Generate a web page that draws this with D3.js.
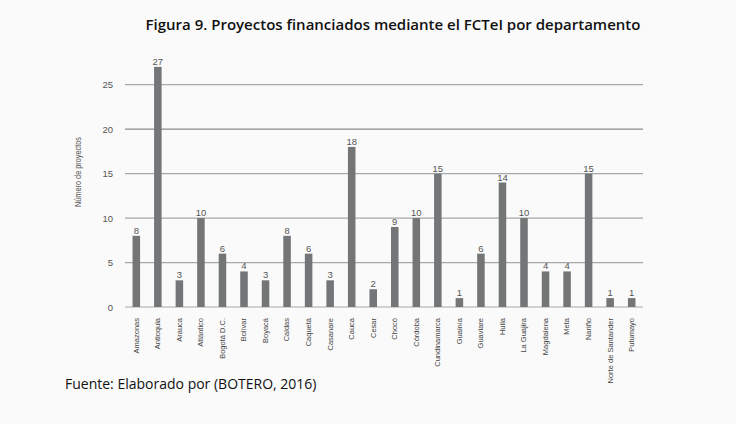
<!DOCTYPE html>
<html>
<head>
<meta charset="utf-8">
<script src="https://cdn.jsdelivr.net/npm/d3@7"></script>
<style>
  body { margin: 0; background: #fafafa; }
  svg { display: block; }
</style>
</head>
<body>
<svg id="chart"></svg>
<script>
// departamentos y numero de proyectos
let departamentos = ['Amazonas', 'Antioquia', 'Arauca', 'Atlántico', 'Bogotá D.C.', 'Bolívar', 'Boyacá',
    'Caldas', 'Caquetá', 'Casanare', 'Cauca', 'Cesar', 'Chocó', 'Córdoba', 'Cundinamarca', 'Guainía',
    'Guaviare', 'Huila', 'La Guajira', 'Magdalena', 'Meta', 'Nariño', 'Norte de Santander', 'Putumayo'];
let proyectos = [8, 27, 3, 10, 6, 4, 3, 8, 6, 3, 18, 2, 9, 10, 15, 1, 6, 14, 10, 4, 4, 15, 1, 1];
let yTicks = [0, 5, 10, 15, 20, 25];

let W = 736, H = 424;
let margin = {top: 58, right: 93, bottom: 117, left: 125},
    width = W - margin.left - margin.right, height = H - margin.top - margin.bottom;

let svg = d3.select('#chart').attr('width', W).attr('height', H);
svg.append('rect').attr('width', W).attr('height', H).attr('fill', '#fafafa');

let x = d3.scaleBand()
    .domain(departamentos)
    .range([0, width])
    .paddingInner(0.65)
    .paddingOuter(0.35);
let y = d3.scaleLinear().domain([0, 28]).range([height, 0]);

let chart = svg.append('g')
    .attr('transform', 'translate(' + margin.left + ',' + margin.top + ')');

// lineas de cuadricula
chart.append('g')
    .selectAll('line')
    .data(yTicks)
    .enter()
    .append('line')
    .attr('x1', 0)
    .attr('x2', width)
    .attr('y1', d => y(d))
    .attr('y2', d => y(d))
    .attr('stroke', d => d == 20 ? '#8a8a8a' : '#a8a8a8')
    .attr('stroke-width', 1.2);

// eje y
let yAxis = d3.axisLeft(y).tickValues(yTicks).tickSize(0).tickPadding(12);
chart.append('g')
    .call(yAxis)
    .call(g => g.select('.domain').remove())
    .selectAll('text')
    .attr('fill', '#555')
    .style('font-family', 'Liberation Sans, Arial, sans-serif')
    .style('font-size', '9.5px');

// eje x
let xAxis = d3.axisBottom(x).tickSize(0).tickPadding(0);
chart.append('g')
    .attr('transform', 'translate(0,' + height + ')')
    .call(xAxis)
    .call(g => g.select('.domain').remove())
    .selectAll('text')
    .attr('transform', 'rotate(-90)')
    .attr('x', -11)
    .attr('y', 0)
    .attr('dy', '.32em')
    .style('text-anchor', 'end')
    .attr('fill', '#444')
    .style('font-family', '"Liberation Sans Narrow", "Arial Narrow", sans-serif')
    .style('font-size', '7.5px');

// barras
chart.selectAll('.bar')
    .data(departamentos)
    .enter()
    .append('rect')
    .attr('class', 'bar')
    .attr('x', (d) => x(d))
    .attr('y', (d, i) => y(proyectos[i]))
    .attr('width', x.bandwidth())
    .attr('height', (d, i) => height - y(proyectos[i]))
    .style('fill', '#737576');

// etiquetas de valor
chart.selectAll('.valor')
    .data(departamentos)
    .enter()
    .append('text')
    .attr('class', 'valor')
    .attr('x', (d) => x(d) + x.bandwidth() / 2)
    .attr('y', (d, i) => y(proyectos[i]) - 2)
    .attr('text-anchor', 'middle')
    .attr('fill', '#555')
    .style('font-family', 'Liberation Sans, Arial, sans-serif')
    .style('font-size', '9.5px')
    .text((d, i) => proyectos[i]);

// titulo eje y
svg.append('text')
    .attr('transform', 'translate(81,172) rotate(-90)')
    .attr('text-anchor', 'middle')
    .attr('fill', '#555')
    .style('font-family', '"Liberation Sans Narrow", "Arial Narrow", sans-serif')
    .style('font-size', '9.5px')
    .attr('textLength', 70)
    .attr('lengthAdjust', 'spacingAndGlyphs')
    .text('Número de proyectos');

// titulo
svg.append('text')
    .attr('x', 393)
    .attr('y', 30)
    .attr('text-anchor', 'middle')
    .attr('fill', '#111')
    .style('font-family', '"Open Sans", sans-serif')
    .style('font-weight', '600')
    .style('font-size', '15px')
    .text('Figura 9. Proyectos financiados mediante el FCTeI por departamento');

// fuente
svg.append('text')
    .attr('x', 65)
    .attr('y', 389)
    .attr('fill', '#111')
    .style('font-family', '"Open Sans", sans-serif')
    .style('font-size', '14px')
    .text('Fuente: Elaborado por (BOTERO, 2016)');
</script>
</body>
</html>
